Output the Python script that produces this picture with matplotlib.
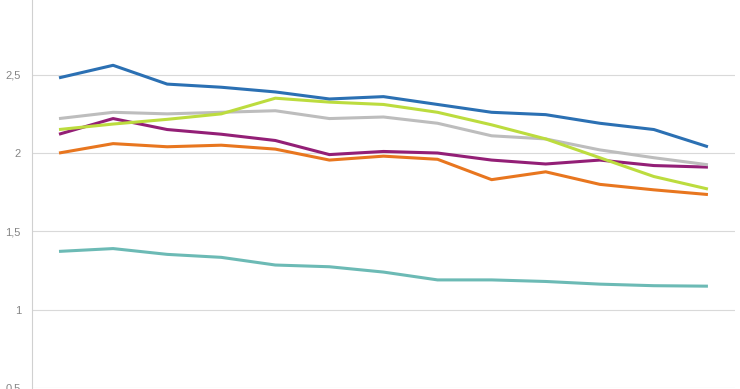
import matplotlib
matplotlib.use("Agg")
import matplotlib.pyplot as plt
import numpy as np

# 13 periods, six series
periods = list(range(13))
blue = [2.48, 2.56, 2.44, 2.42, 2.39, 2.345, 2.36, 2.31, 2.26, 2.245, 2.19, 2.15, 2.04]
lime = [2.15, 2.185, 2.215, 2.25, 2.35, 2.325, 2.31, 2.26, 2.18, 2.09, 1.97, 1.85, 1.77]
gray = [2.22, 2.26, 2.25, 2.26, 2.27, 2.22, 2.23, 2.19, 2.11, 2.09, 2.02, 1.97, 1.925]
purple = [2.12, 2.22, 2.15, 2.12, 2.08, 1.99, 2.01, 2.0, 1.955, 1.93, 1.955, 1.92, 1.91]
orange = [2.0, 2.06, 2.04, 2.05, 2.025, 1.955, 1.98, 1.96, 1.83, 1.88, 1.80, 1.765, 1.735]
teal = [1.372, 1.39, 1.353, 1.334, 1.285, 1.274, 1.24, 1.19, 1.19, 1.18, 1.163, 1.153, 1.15]

yticks = [0.5, 1, 1.5, 2, 2.5]
ytick_labels = ["0,5", "1", "1,5", "2", "2,5"]

series = [
    (teal, "#6cbab5"),
    (orange, "#e8761f"),
    (purple, "#931f76"),
    (gray, "#bdbdbd"),
    (lime, "#bcdc3e"),
    (blue, "#2b70b3"),
]

plt.rcParams["font.family"] = ["Liberation Sans", "DejaVu Sans"]

fig = plt.figure(figsize=(7.4, 3.89), dpi=100)
ax = fig.add_axes([0.0432, 0.0026, 0.9500, 1.0067])

for vals, col in series:
    ax.plot(periods, vals, color=col, linewidth=2.2, solid_capstyle="butt")

ax.set_xlim(-0.5, 12.5)
ax.set_ylim(0.5, 3.0)
ax.set_yticks(yticks)
ax.set_yticklabels(ytick_labels)
ax.set_xticks([])
ax.grid(axis="y", color="#d9d9d9", linewidth=0.8)
ax.set_axisbelow(True)
ax.tick_params(axis="y", length=0, pad=8, labelsize=8, labelcolor="#858585")
for s in ["top", "right", "bottom"]:
    ax.spines[s].set_visible(False)
ax.spines["left"].set_color("#d0d0d0")
ax.spines["left"].set_linewidth(0.8)

fig.savefig("out.png", dpi=100, facecolor="white")
plt.close(fig)
